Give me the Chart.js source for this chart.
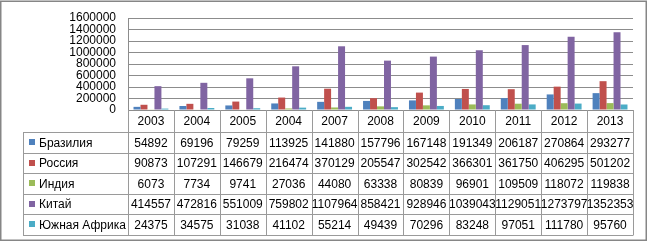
<!DOCTYPE html>
<html><head><meta charset="utf-8">
<script src="https://cdn.jsdelivr.net/npm/chart.js@4"></script>
<style>html,body{margin:0;padding:0;background:#fff}#wrap{position:relative;width:648px;height:243px}</style>
</head><body><div id="wrap"><canvas id="c" width="648" height="243"></canvas></div>
<script>
const categories = ['2003','2004','2005','2004','2007','2008','2009','2010','2011','2012','2013'];
const seriesNames = ['Бразилия','Россия','Индия','Китай','Южная Африка'];
const brazil = [54892,69196,79259,113925,141880,157796,167148,191349,206187,270864,293277];
const russia = [90873,107291,146679,216474,370129,205547,302542,366301,361750,406295,501202];
const india = [6073,7734,9741,27036,44080,63338,80839,96901,109509,118072,119838];
const china = [414557,472816,551009,759802,1107964,858421,928946,1039043,1129051,1273797,1352353];
const southAfrica = [24375,34575,31038,41102,55214,49439,70296,83248,97051,111780,95760];
const tableText = [
 ['54892','69196','79259','113925','141880','157796','167148','191349','206187','270864','293277'],
 ['90873','107291','146679','216474','370129','205547','302542','366301','361750','406295','501202'],
 ['6073','7734','9741','27036','44080','63338','80839','96901','109509','118072','119838'],
 ['414557','472816','551009','759802','1107964','858421','928946','1039043','1129051','1273797','1352353'],
 ['24375','34575','31038','41102','55214','49439','70296','83248','97051','111780','95760']
];
const colors = ['#4F81BD','#C0504D','#9BBB59','#8064A2','#4BACC6'];
const allSeries = [brazil,russia,india,china,southAfrica];
const FONT = '12px "Liberation Sans", Arial, sans-serif';
const GRID = '#8C8C8C';
const TBL = '#9A9A9A';

const framePlugin = {
  id:'frame',
  beforeDraw(chart){
    const ctx = chart.ctx;
    ctx.save();
    ctx.fillStyle='#fff';ctx.fillRect(0,0,chart.width,chart.height);
    ctx.strokeStyle='#868686';ctx.lineWidth=1.5;
    ctx.strokeRect(0.75,1.25,645.5,239);
    ctx.restore();
  },
  afterDraw(chart){
    const ctx = chart.ctx;
    const xs = chart.scales.x;
    const a = chart.chartArea;
    const n = categories.length;
    const w = (xs.right - xs.left)/n;
    const rowTops = [a.bottom, 132, 152.5, 173, 193.5, 214, 234.5];
    const legendLeft = 23;
    ctx.save();
    ctx.strokeStyle = TBL; ctx.lineWidth = 1;
    ctx.beginPath();
    for (let r=1;r<rowTops.length;r++){
      const y = Math.round(rowTops[r])+0.5;
      ctx.moveTo(legendLeft, y); ctx.lineTo(xs.right, y);
    }
    for (let i=0;i<=n;i++){
      const x = Math.round(xs.getPixelForValue(i) - w/2)+0.5;
      ctx.moveTo(x, a.bottom); ctx.lineTo(x, Math.round(rowTops[6])+0.5);
    }
    ctx.moveTo(legendLeft+0.5, Math.round(rowTops[1])+0.5);
    ctx.lineTo(legendLeft+0.5, Math.round(rowTops[6])+0.5);
    ctx.stroke();
    ctx.fillStyle='#000'; ctx.font = FONT; ctx.textBaseline='middle'; ctx.textAlign='center';
    for (let i=0;i<n;i++){
      const cx = xs.getPixelForValue(i);
      ctx.fillText(categories[i], cx, (rowTops[0]+rowTops[1])/2+1);
      for (let r=0;r<5;r++){
        ctx.fillText(tableText[r][i], cx, (rowTops[r+1]+rowTops[r+2])/2+1);
      }
    }
    ctx.textAlign='left';
    for (let r=0;r<5;r++){
      const cy=(rowTops[r+1]+rowTops[r+2])/2;
      ctx.fillStyle=colors[r]; ctx.fillRect(29, Math.round(cy)-3, 6, 6);
      ctx.fillStyle='#000'; ctx.fillText(seriesNames[r], 39, cy+1);
    }
    ctx.restore();
  }
};

new Chart(document.getElementById('c'), {
  type:'bar',
  data:{
    labels: categories,
    datasets: seriesNames.map((s,i)=>({label:s, data:allSeries[i], backgroundColor:colors[i], borderWidth:0,
      categoryPercentage:0.76, barPercentage:1.0}))
  },
  plugins:[framePlugin],
  options:{
    responsive:false, animation:false,
    layout:{padding:{left:0, top:15, right:15, bottom:133}},
    plugins:{legend:{display:false}, tooltip:{enabled:false}},
    scales:{
      x:{display:false, grid:{display:false}},
      y:{min:0,max:1600000,
        afterFit(s){s.width=128;},
        border:{display:true,color:GRID,width:1},
        grid:{color:GRID, drawTicks:false, lineWidth:1},
        ticks:{stepSize:200000, autoSkip:false, padding:12, color:'#000', font:{family:'"Liberation Sans", Arial, sans-serif', size:12, lineHeight:1}, callback:v=>String(v)}
      }
    }
  }
});
</script></body></html>
